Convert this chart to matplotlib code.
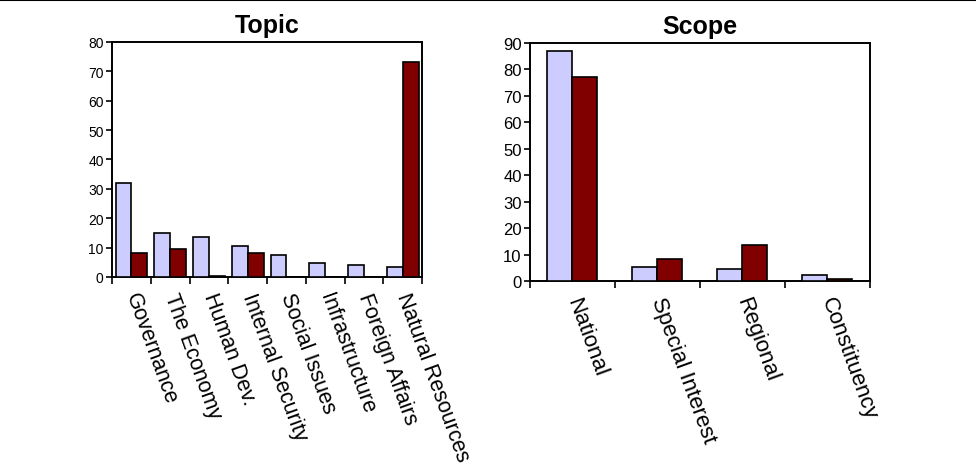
import matplotlib
matplotlib.use("Agg")
import matplotlib.pyplot as plt
from matplotlib.lines import Line2D
import numpy as np

plt.rcParams['font.family'] = ['Liberation Sans', 'DejaVu Sans']

topic_categories = ["Governance", "The Economy", "Human Dev.", "Internal Security",
                    "Social Issues", "Infrastructure", "Foreign Affairs", "Natural Resources"]
topic_light = [32, 15, 13.5, 10.7, 7.4, 4.7, 4.1, 3.3]
topic_dark = [8.2, 9.5, 0.5, 8.1, 0, 0, 0, 73.3]
topic_yticks = [0, 10, 20, 30, 40, 50, 60, 70, 80]

scope_categories = ["National", "Special Interest", "Regional", "Constituency"]
scope_light = [87, 5.3, 4.6, 2.1]
scope_dark = [77, 8.4, 13.6, 0.6]
scope_yticks = [0, 10, 20, 30, 40, 50, 60, 70, 80, 90]

LIGHT = "#CCCCFF"
DARK = "#800000"

fig = plt.figure(figsize=(9.76, 4.77), dpi=100)

def draw(ax, cats, light, dark, yticks, width, title, labelsize, ytsize):
    n = len(cats)
    x = np.arange(n)
    ax.bar(x - width / 2, light, width, color=LIGHT, edgecolor="black", linewidth=1.2, zorder=3)
    ax.bar(x + width / 2, dark, width, color=DARK, edgecolor="black", linewidth=1.2, zorder=3)
    ax.set_xlim(-0.5, n - 0.5)
    ax.set_ylim(yticks[0], yticks[-1])
    ax.set_yticks(yticks)
    ax.set_yticklabels([str(v) for v in yticks], fontsize=ytsize)
    ax.set_xticks(np.arange(n + 1) - 0.5)
    ax.set_xticklabels([])
    ax.tick_params(axis='x', direction='out', length=5, width=1.2)
    ax.tick_params(axis='y', direction='out', length=4, width=1.2, pad=2)
    for s in ax.spines.values():
        s.set_linewidth(1.4)
    ax.set_title(title, fontsize=18, fontweight='bold', pad=7)
    for i, c in enumerate(cats):
        ax.text(i, -0.07, c, transform=ax.get_xaxis_transform(), rotation=-70,
                rotation_mode='anchor', ha='left', va='center', fontsize=labelsize)

ax1 = fig.add_axes([0.1148, 0.4172, 0.3176, 0.4927])
draw(ax1, topic_categories, topic_light, topic_dark, topic_yticks, 0.41, "Topic", 15.5, 10)

ax2 = fig.add_axes([0.543, 0.4088, 0.348, 0.499])
draw(ax2, scope_categories, scope_light, scope_dark, scope_yticks, 0.295, "Scope", 16, 12)

fig.add_artist(Line2D([0, 1], [0.998, 0.998], transform=fig.transFigure, color='black', linewidth=1.5))

fig.savefig("out.png", dpi=100)
